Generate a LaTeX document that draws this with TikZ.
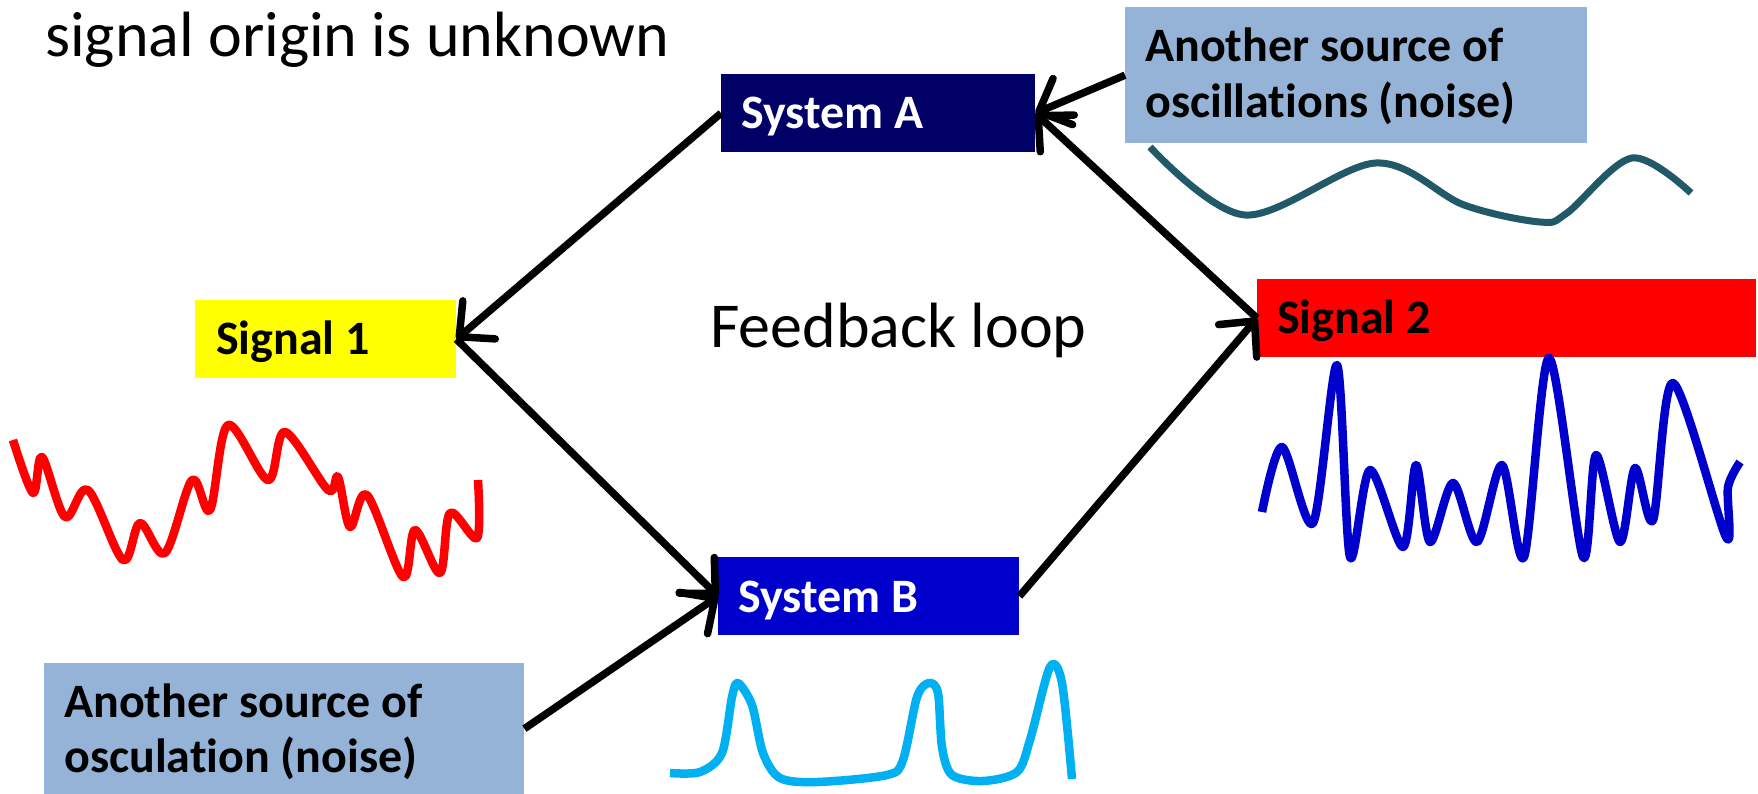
\documentclass[tikz,border=0pt]{standalone}
\usepackage{fontspec}
\setmainfont{Carlito}[Ligatures=NoCommon]
\usetikzlibrary{arrows.meta}
\definecolor{navyA}{HTML}{000066}
\definecolor{blueB}{HTML}{0000CC}
\definecolor{noiseblue}{HTML}{95B3D7}
\definecolor{tealW}{HTML}{215968}
\definecolor{cyanW}{HTML}{00B0F0}
\definecolor{redS}{HTML}{FF0000}
\definecolor{yellowS}{HTML}{FFFF00}
\tikzset{
  box/.style={draw=none, inner sep=0pt, anchor=north west},
  lbl/.style={inner sep=0pt, anchor=base west, font=\fontsize{48}{55.5}\selectfont\bfseries},
  bigtxt/.style={inner sep=0pt, anchor=base west, font=\fontsize{64}{77}\selectfont},
  arr/.style={line width=7.5pt, -{Straight Barb[length=26pt,width=50pt,round]}},
  wave/.style={line width=8.5pt, smooth, tension=0.55, line join=round}
}
\begin{document}
\begin{tikzpicture}[x=1pt,y=-1pt]
\useasboundingbox[fill=white] (0,0) rectangle (1758,794);

% boxes
\node[box, fill=navyA, minimum width=314pt, minimum height=78pt] (sysA) at (721,74) {};
\node[box, fill=blueB, minimum width=301pt, minimum height=78pt] (sysB) at (718,557) {};
\node[box, fill=yellowS, minimum width=261pt, minimum height=78pt] (sig1) at (195,300) {};
\node[box, fill=redS, minimum width=499pt, minimum height=78pt] (sig2) at (1257,279) {};
\node[box, fill=noiseblue, minimum width=462pt, minimum height=136pt] (noise1) at (1125,7) {};
\node[box, fill=noiseblue, minimum width=480pt, minimum height=131pt] (noise2) at (44,663) {};

% labels
\node[lbl, text=white] (sysAt) at (741,129) {System A};
\node[lbl, text=white] (sysBt) at (738,612) {System B};
\node[lbl] (sig1t) at (216,354) {Signal 1};
\node[lbl] (sig2t) at (1277,333) {Signal 2};
\node[lbl, text width=440pt, align=flush left] (n1t) at (1145,62) {Another source of\\oscillations (noise)};
\node[lbl, text width=460pt, align=flush left] (n2t) at (64,717) {Another source of\\osculation (noise)};
\node[bigtxt] (title) at (45,57) {signal origin is unknown};
\node[bigtxt] (fb) at (710,347) {Feedback loop};

% connectors
\draw[arr] (sysA.west) -- (sig1.east);
\draw[arr] (sig1.east) -- (sysB.west);
\draw[arr] (noise2.east) -- (sysB.west);
\draw[arr] (sysB.east) -- (sig2.west);
\draw[arr] (sig2.west) -- (sysA.east);
\draw[arr] (noise1.west) -- (sysA.east);

% waveforms
\draw[wave, redS] plot coordinates {(13,440) (33,493) (42,457) (65,517) (88,490) (123,560) (140,523) (165,553) (192,480) (210,510) (228,425) (268,480) (285,432) (328,490) (338,477) (350,527) (367,495) (403,577) (415,530) (440,573) (450,513) (477,538) (478,480)};
\draw[wave, blueB, tension=0.5] plot coordinates {(1262,512) (1282,447) (1313,523) (1337,365) (1350,557) (1370,470) (1403,547) (1416,465) (1430,542) (1453,483) (1477,542) (1502,465) (1524,557) (1549,358) (1583,557) (1596,455) (1620,542) (1635,468) (1653,520) (1673,383) (1726,537) (1728,487) (1740,462)};
\draw[wave, tealW, line width=7pt] plot coordinates {(1150,147) (1245,215) (1376,163) (1464,205) (1540,222) (1567,213) (1632,158) (1691,193)};
\draw[wave, cyanW, tension=0.5] plot coordinates {(670,773) (700,772) (722,753) (732,697) (738,683) (752,705) (763,753) (780,778) (817,782) (887,775) (903,760) (917,697) (929,683) (938,693) (942,747) (952,775) (983,781) (1017,772) (1030,740) (1050,667) (1062,683) (1072,779)};
\end{tikzpicture}
\end{document}
